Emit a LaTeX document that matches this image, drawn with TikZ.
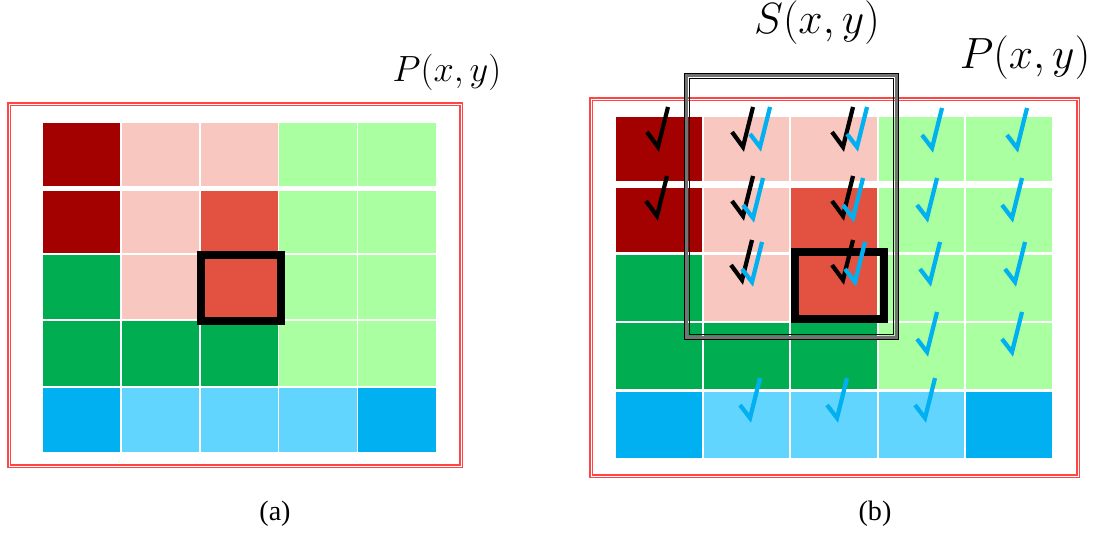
\documentclass[tikz,border=0pt]{standalone}
\usepackage{fontspec}
\setmainfont{Liberation Serif}
\definecolor{dred}{RGB}{163,0,0}
\definecolor{pink}{RGB}{247,199,192}
\definecolor{mred}{RGB}{227,82,65}
\definecolor{lgrn}{RGB}{170,255,160}
\definecolor{dgrn}{RGB}{0,173,80}
\definecolor{dblu}{RGB}{0,176,240}
\definecolor{lblu}{RGB}{98,213,255}
\definecolor{frred}{RGB}{255,70,70}
\definecolor{ckblu}{RGB}{0,176,240}

\begin{document}
\begin{tikzpicture}[
    x=0.02cm, y=-0.02cm,
    frame/.style={draw=frred, double=white, line width=0.95pt, double distance=0.5pt},
    target/.style={draw=black, line width=4.5pt},
    label/.style={inner sep=0pt, font=\fontsize{21}{21}\selectfont},
    biglabel/.style={inner sep=0pt, font=\fontsize{24}{24}\selectfont},
    caption/.style={inner sep=0pt, font=\fontsize{16}{16}\selectfont},
    pics/chkblack/.style={code={\draw[black, line width=2.4pt] (-11,-15) -- (0,0) -- (10,-40);}},
    pics/chkblue/.style={code={\draw[ckblu, line width=2.4pt] (-10,-13) -- (0,0) -- (10,-40);}}
]
\useasboundingbox (0,0) rectangle (1094,537);

% panel (a)
\draw[frame] (9,104) rectangle (461,466);
\foreach \ty/\by/\cols in {123/186/{dred,pink,pink,lgrn,lgrn},
                           191/253/{dred,pink,mred,lgrn,lgrn},
                           255/319/{dgrn,pink,mred,lgrn,lgrn},
                           321/386/{dgrn,dgrn,dgrn,lgrn,lgrn},
                           388/452/{dblu,lblu,lblu,lblu,dblu}}
  \foreach \c [count=\i from 0] in \cols
    \fill[\c] ({43+\i*78.8},\ty) rectangle ({43+\i*78.8+77.3},\by);
\draw[target] (201,255) rectangle (281,321);
\node[label] (pa) at (447,72) {$P(x,y)$};
\node[caption] (capa) at (275,514) {(a)};

% panel (b)
\draw[frame] (591,99) rectangle (1078,476);
\foreach \ty/\by/\cols in {117/181/{dred,pink,pink,lgrn,lgrn},
                           188/252/{dred,pink,mred,lgrn,lgrn},
                           255/321/{dgrn,pink,mred,lgrn,lgrn},
                           323/389/{dgrn,dgrn,dgrn,lgrn,lgrn},
                           392/458/{dblu,lblu,lblu,lblu,dblu}}
  \foreach \c [count=\i from 0] in \cols
    \fill[\c] ({616+\i*87.5},\ty) rectangle ({616+\i*87.5+85.5},\by);
\draw[target] (795,252) rectangle (884,319);
\draw[black!55, line width=1.8pt] (686.5,75.5) rectangle (896.5,337.5);
\draw[black, line width=0.6pt] (684.5,73.5) rectangle (898.5,339.5);
\draw[black, line width=0.7pt] (689.5,78.5) rectangle (893.5,334.5);
\foreach \px/\py in {658/147, 743/147, 843/147, 657/216, 743/216, 843/216, 742/280, 843/280}
  \pic at (\px,\py) {chkblack};
\foreach \px/\py in {760/147, 857/147, 932/148, 1017/148,
                     753/218, 853/218, 927/218, 1012/218,
                     752/282, 855/282, 930/282, 1015/282,
                     927/352, 1012/352, 750/418, 837/418, 925/418}
  \pic at (\px,\py) {chkblue};
\node[biglabel] (sb) at (817,23) {$S(x,y)$};
\node[biglabel] (pb) at (1025,58) {$P(x,y)$};
\node[caption] (capb) at (875,514) {(b)};
\end{tikzpicture}
\end{document}
